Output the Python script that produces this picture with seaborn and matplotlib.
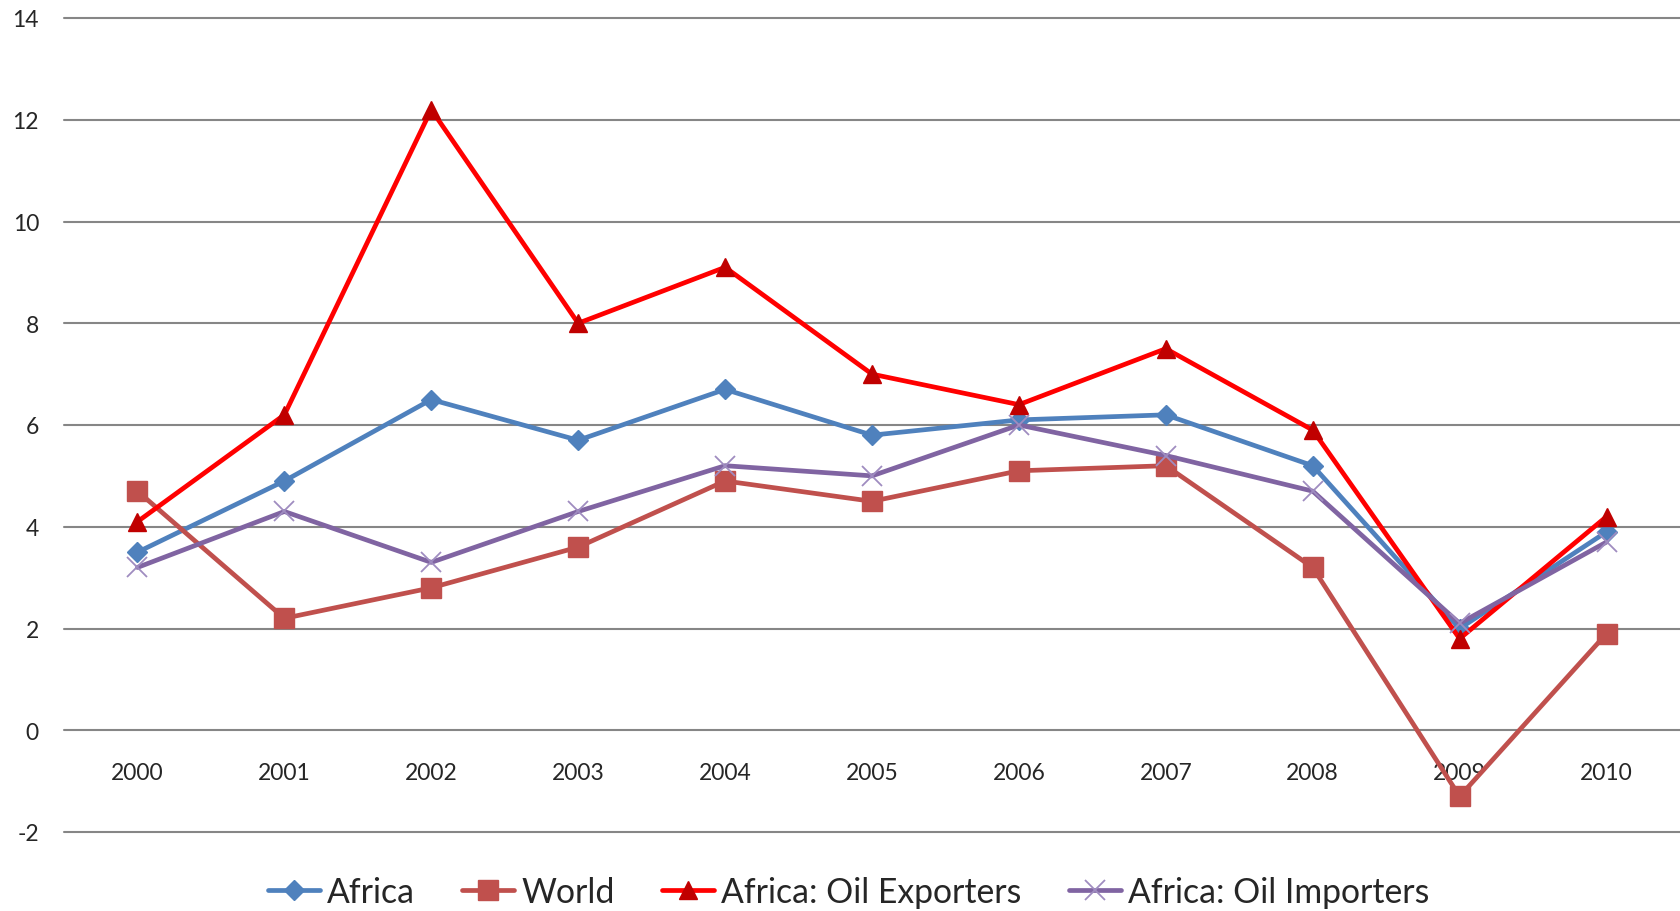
import pandas as pd
import matplotlib.pyplot as plt
import seaborn as sns

# Data (annual growth, %)
years = [2000, 2001, 2002, 2003, 2004, 2005, 2006, 2007, 2008, 2009, 2010]
africa = [3.5, 4.9, 6.5, 5.7, 6.7, 5.8, 6.1, 6.2, 5.2, 2.0, 3.9]
world = [4.7, 2.2, 2.8, 3.6, 4.9, 4.5, 5.1, 5.2, 3.2, -1.3, 1.9]
oil_exporters = [4.1, 6.2, 12.2, 8.0, 9.1, 7.0, 6.4, 7.5, 5.9, 1.8, 4.2]
oil_importers = [3.2, 4.3, 3.3, 4.3, 5.2, 5.0, 6.0, 5.4, 4.7, 2.1, 3.7]
series_names = ['Africa', 'World', 'Africa: Oil Exporters', 'Africa: Oil Importers']
y_ticks = [-2, 0, 2, 4, 6, 8, 10, 12, 14]

df = pd.DataFrame({'year': years, 'Africa': africa, 'World': world,
                   'Africa: Oil Exporters': oil_exporters,
                   'Africa: Oil Importers': oil_importers})
long_df = df.melt(id_vars='year', var_name='series', value_name='value')

sns.set_theme(style="white")
plt.rcParams['font.family'] = ['Lato', 'DejaVu Sans']
plt.rcParams['axes.unicode_minus'] = False

fig = plt.figure(figsize=(16.8, 9.12), dpi=100)
ax = fig.add_axes([64 / 1680, 1 - 833 / 912, 1 - 64 / 1680, (833 - 19) / 912])

# line colour, marker, marker face/edge colour, marker size, edge width
styles = {
    'Africa': ('#4F81BD', 'D', '#4F81BD', '#4F81BD', 10, 1),
    'World': ('#C0504D', 's', '#C0504D', '#C0504D', 14, 1),
    'Africa: Oil Exporters': ('#FF0000', '^', '#C00000', '#C00000', 13, 1),
    'Africa: Oil Importers': ('#8064A2', 'x', '#9F8CC0', '#9F8CC0', 14, 1.3),
}

for name in series_names:
    color, marker, mfc, mec, ms, mew = styles[name]
    sns.lineplot(data=long_df[long_df['series'] == name], x='year', y='value',
                 color=color, linewidth=3.4, marker=marker, markerfacecolor=mfc,
                 markeredgecolor=mec, markersize=ms, markeredgewidth=mew,
                 label=name, ax=ax)

ax.set_xlim(1999.5, 2010.5)
ax.set_ylim(-2, 14)
ax.set_yticks(y_ticks)
ax.set_xticks(years)
ax.set_xticklabels([str(y) for y in years])
ax.set_xlabel('')
ax.set_ylabel('')

for s in ax.spines.values():
    s.set_visible(False)
ax.spines['bottom'].set_position(('data', 0))

ax.grid(axis='y', color='#868686', linewidth=1.5)
ax.grid(axis='x', visible=False)
for gl in ax.get_ygridlines():
    gl.set_clip_on(False)
ax.set_axisbelow(True)

ax.tick_params(axis='y', length=0, pad=18, labelsize=16.5)
ax.tick_params(axis='x', length=0, pad=23, labelsize=16.5)

ax.get_legend().remove()
handles, labels = ax.get_legend_handles_labels()
fig.legend(handles, labels, loc='center', bbox_to_anchor=(0.505, 1 - 893 / 912),
           ncol=4, frameon=False, fontsize=24.3, handlelength=1.55,
           handletextpad=0.2, columnspacing=1.4, borderaxespad=0)

fig.savefig('out.png', dpi=100)
